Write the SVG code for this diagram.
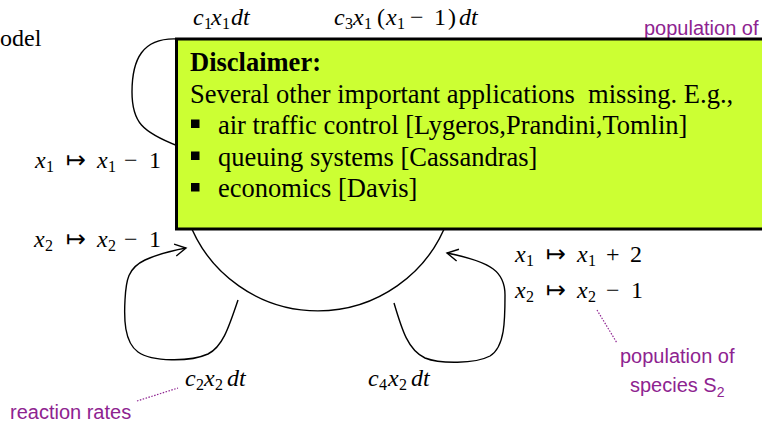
<svg xmlns="http://www.w3.org/2000/svg" width="762" height="426" viewBox="0 0 762 426">
<style>
  .m { font-family: "Liberation Serif", "Times New Roman", serif; font-size: 24px; fill: #000; }
  .i { font-style: italic; }
  .s { font-size: 16px; }
  .sym { font-family: "DejaVu Sans", "Liberation Serif", sans-serif; font-size: 24px; }
  .p { font-family: "Liberation Sans", Arial, sans-serif; font-size: 20px; fill: #8e2390; }
  .ps { font-size: 14px; }
  .bx { font-family: "Liberation Serif", "Times New Roman", serif; font-size: 26.5px; fill: #000; }
  .edge { fill: none; stroke: #000; stroke-width: 1.4; }
  .dot { fill: none; stroke: #8e2390; stroke-width: 1.2; stroke-dasharray: 1.5 1.5; }
</style>
<defs>
  <marker id="arr" markerUnits="userSpaceOnUse" markerWidth="16" markerHeight="16" viewBox="-12 -8 14 16" refX="0" refY="0" orient="auto">
    <path d="M -11,-6 L 0,0 L -11,6" fill="none" stroke="#000" stroke-width="1.4"/>
  </marker>
</defs>
<rect width="762" height="426" fill="#fff"/>

<text class="m" x="0" y="46">odel</text>

<g id="state">
  <path class="edge" d="M 188.3,220 A 138 138 0 0 0 447.7,220"/>
</g>

<g id="connectors">
  <path class="edge" d="M 178,39 C 142,37 132,60 132,92 C 132,122 142,132 178,146"/>
  <path class="edge" marker-end="url(#arr)" d="M 238,300 C 228,330 222,347 208,354 C 190,362 152,362 138,352 C 124,342 124,318 125,300 C 126,280 128,268 145,260 C 158,254 170,251 186,248"/>
  <path class="edge" marker-end="url(#arr)" d="M 394,303 C 402,330 408,350 425,358 C 440,364 475,364 490,356 C 505,347 505,320 505,295 C 505,272 492,262 447,253"/>
  <path class="dot" d="M 137,401 L 178,388"/>
  <path class="dot" d="M 597,310 L 617,343"/>
</g>

<g id="rates">
  <text class="m" y="25"><tspan x="193" class="i">c</tspan><tspan class="s" x="204" dy="4">1</tspan><tspan x="211" dy="-4" class="i">x</tspan><tspan class="s" x="222" dy="4">1</tspan><tspan x="231" dy="-4" class="i">dt</tspan></text>
  <text class="m" y="25"><tspan x="334" class="i">c</tspan><tspan class="s" x="345" dy="4">3</tspan><tspan x="353" dy="-4" class="i">x</tspan><tspan class="s" x="364" dy="4">1</tspan><tspan x="377" dy="-4">(</tspan><tspan x="386" class="i">x</tspan><tspan class="s" x="397" dy="4">1</tspan><tspan x="410" dy="-4">−</tspan><tspan x="434">1</tspan><tspan x="448">)</tspan><tspan x="459" class="i">dt</tspan></text>
  <text class="m" y="386"><tspan x="185" class="i">c</tspan><tspan class="s" x="196" dy="4">2</tspan><tspan x="204" dy="-4" class="i">x</tspan><tspan class="s" x="215" dy="4">2</tspan><tspan x="227" dy="-4" class="i">dt</tspan></text>
  <text class="m" y="386"><tspan x="368" class="i">c</tspan><tspan class="s" x="379" dy="4">4</tspan><tspan x="388" dy="-4" class="i">x</tspan><tspan class="s" x="399" dy="4">2</tspan><tspan x="411" dy="-4" class="i">dt</tspan></text>
</g>

<g id="updates">
  <text class="m" y="168"><tspan x="35" class="i">x</tspan><tspan class="s" x="46" dy="4">1</tspan><tspan x="66" dy="-4" class="sym">↦</tspan><tspan x="97" class="i">x</tspan><tspan class="s" x="108" dy="4">1</tspan><tspan x="124" dy="-4">−</tspan><tspan x="149">1</tspan></text>
  <text class="m" y="247"><tspan x="34" class="i">x</tspan><tspan class="s" x="45" dy="4">2</tspan><tspan x="66" dy="-4" class="sym">↦</tspan><tspan x="97" class="i">x</tspan><tspan class="s" x="108" dy="4">2</tspan><tspan x="124" dy="-4">−</tspan><tspan x="149">1</tspan></text>
  <text class="m" y="262"><tspan x="515" class="i">x</tspan><tspan class="s" x="526" dy="4">1</tspan><tspan x="546" dy="-4" class="sym">↦</tspan><tspan x="577" class="i">x</tspan><tspan class="s" x="588" dy="4">1</tspan><tspan x="606" dy="-4">+</tspan><tspan x="630">2</tspan></text>
  <text class="m" y="298"><tspan x="515" class="i">x</tspan><tspan class="s" x="526" dy="4">2</tspan><tspan x="546" dy="-4" class="sym">↦</tspan><tspan x="577" class="i">x</tspan><tspan class="s" x="588" dy="4">2</tspan><tspan x="606" dy="-4">−</tspan><tspan x="631">1</tspan></text>
</g>

<g id="notes">
  <text class="p" x="644" y="35">population of</text>
  <text class="p" x="10" y="419">reaction rates</text>
  <text class="p" x="620" y="363">population of</text>
  <text class="p" x="630" y="392">species S<tspan class="ps" dy="5">2</tspan></text>
</g>

<g id="disclaimer">
  <rect x="176.5" y="39" width="600" height="190" fill="#ccff33" stroke="#000" stroke-width="3"/>
  <text class="bx" x="190" y="71" font-weight="bold">Disclaimer:</text>
  <text class="bx" x="190" y="103" xml:space="preserve">Several other important applications  missing. E.g.,</text>
  <rect x="191" y="119.5" width="8.5" height="8.5" fill="#000"/>
  <rect x="191" y="151.5" width="8.5" height="8.5" fill="#000"/>
  <rect x="191" y="183" width="8.5" height="8.5" fill="#000"/>
  <text class="bx" x="218" y="134">air traffic control [Lygeros,Prandini,Tomlin]</text>
  <text class="bx" x="218" y="166">queuing systems [Cassandras]</text>
  <text class="bx" x="218" y="197">economics [Davis]</text>
</g>
</svg>
